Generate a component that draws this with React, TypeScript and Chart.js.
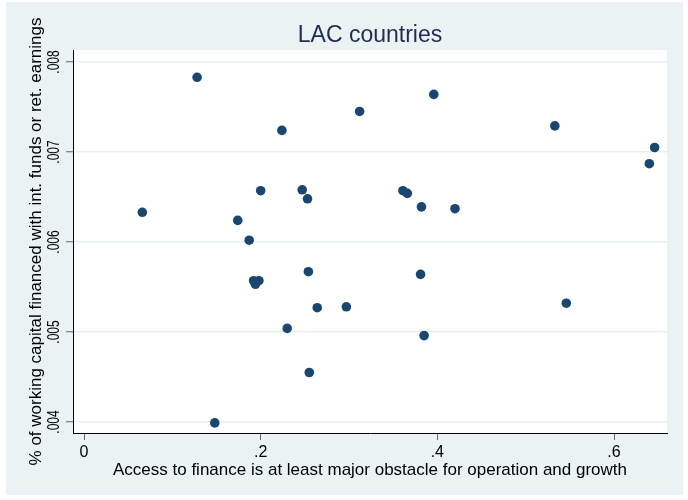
import React, { useEffect, useRef } from 'react';
import { Chart, registerables } from 'chart.js';

Chart.register(...registerables);

const xValues = [0.066, 0.128, 0.224, 0.312, 0.396, 0.533, 0.646, 0.640, 0.200, 0.247, 0.253, 0.361, 0.366, 0.382, 0.420, 0.174, 0.187, 0.192, 0.198, 0.194, 0.254, 0.381, 0.264, 0.297, 0.546, 0.230, 0.385, 0.255, 0.148];
const yValues = [0.00633, 0.00783, 0.00724, 0.00745, 0.00764, 0.00729, 0.00705, 0.00687, 0.00657, 0.00658, 0.00648, 0.00657, 0.00654, 0.00639, 0.00637, 0.00624, 0.00602, 0.00557, 0.00557, 0.00553, 0.00567, 0.00564, 0.00527, 0.00528, 0.00532, 0.00504, 0.00496, 0.00455, 0.00399];
const xTickValues = [0, 0.2, 0.4, 0.6];
const xTickLabels = ['0', '.2', '.4', '.6'];
const yTickValues = [0.004, 0.005, 0.006, 0.007, 0.008];
const yTickLabels = ['.004', '.005', '.006', '.007', '.008'];
const titleText = 'LAC countries';
const xTitle = 'Access to finance is at least major obstacle for operation and growth';
const yTitle = '% of working capital financed with int. funds or ret. earnings';

const FONT = '"Liberation Sans", Arial, Helvetica, sans-serif';

const stataPlugin = {
  id: 'stataLook',
  beforeDraw(chart: any) {
    const { ctx, chartArea: a } = chart;
    ctx.save();
    ctx.fillStyle = '#ffffff';
    ctx.fillRect(0, 0, chart.width, chart.height);
    ctx.fillStyle = '#EAF2F3';
    ctx.fillRect(6, 2, chart.width - 11, chart.height - 7);
    ctx.fillStyle = '#ffffff';
    ctx.fillRect(a.left, a.top, a.right - a.left, a.bottom - a.top);
    ctx.restore();
  },
  afterDraw(chart: any) {
    const { ctx, chartArea: a } = chart;
    const ys = chart.scales.y;
    ctx.save();
    ctx.fillStyle = '#1F2D4F';
    ctx.font = `23px ${FONT}`;
    ctx.textAlign = 'center';
    ctx.textBaseline = 'alphabetic';
    ctx.fillText(titleText, (a.left + a.right) / 2, 41.7);
    ctx.fillStyle = '#000000';
    ctx.font = `16px ${FONT}`;
    yTickValues.forEach((v, i) => {
      const py = ys.getPixelForValue(v);
      ctx.save();
      ctx.translate(a.left - 14, py);
      ctx.rotate(-Math.PI / 2);
      ctx.scale(0.75, 1);
      ctx.fillText(yTickLabels[i], 0, 0);
      ctx.restore();
    });
    ctx.restore();
  },
};

export default function App() {
  const ref = useRef<HTMLCanvasElement | null>(null);
  useEffect(() => {
    if (!ref.current) return;
    const chart = new Chart(ref.current, {
      type: 'scatter',
      data: {
        datasets: [
          {
            data: xValues.map((x, i) => ({ x, y: yValues[i] })),
            backgroundColor: '#1A476F',
            borderWidth: 0,
            pointRadius: 4.8,
            pointHoverRadius: 4.8,
          },
        ],
      },
      options: {
        animation: false,
        responsive: false,
        events: [],
        layout: { padding: { top: 50, right: 21, left: 0, bottom: 0 } },
        plugins: {
          legend: { display: false },
          tooltip: { enabled: false },
          title: { display: false },
        },
        scales: {
          x: {
            type: 'linear',
            min: -0.0125,
            max: 0.66,
            afterBuildTicks: (s: any) => {
              s.ticks = xTickValues.map((v) => ({ value: v }));
            },
            afterFit: (s: any) => {
              s.height = 67;
            },
            grid: {
              display: true,
              drawOnChartArea: false,
              drawTicks: true,
              tickLength: 7,
              tickColor: '#666666',
              tickWidth: 1,
            },
            border: { display: true, color: '#000000', width: 1 },
            ticks: {
              callback: (_v: any, i: number) => xTickLabels[i],
              font: { size: 16, family: FONT },
              color: '#000000',
              padding: 3,
              maxRotation: 0,
              minRotation: 0,
              autoSkip: false,
            },
            title: {
              display: true,
              text: xTitle,
              font: { size: 17, family: FONT },
              color: '#000000',
              padding: { top: 0, bottom: 19 },
            },
          },
          y: {
            type: 'linear',
            min: 0.003878,
            max: 0.008133,
            afterBuildTicks: (s: any) => {
              s.ticks = yTickValues.map((v) => ({ value: v }));
            },
            afterFit: (s: any) => {
              s.width = 73;
            },
            grid: {
              color: '#E8EFF1',
              lineWidth: 1.5,
              drawTicks: true,
              tickLength: 7,
              tickColor: '#666666',
              tickWidth: 1,
            },
            border: { display: true, color: '#000000', width: 1 },
            ticks: { display: false },
            title: {
              display: true,
              text: yTitle,
              font: { size: 17, family: FONT },
              color: '#000000',
              padding: { top: 26, bottom: 0 },
            },
          },
        },
      },
      plugins: [stataPlugin],
    } as any);
    return () => chart.destroy();
  }, []);
  return (
    <div style={{ position: 'absolute', left: 0, top: 0, width: 688, height: 500 }}>
      <canvas ref={ref} width={688} height={500} style={{ display: 'block' }} />
    </div>
  );
}
